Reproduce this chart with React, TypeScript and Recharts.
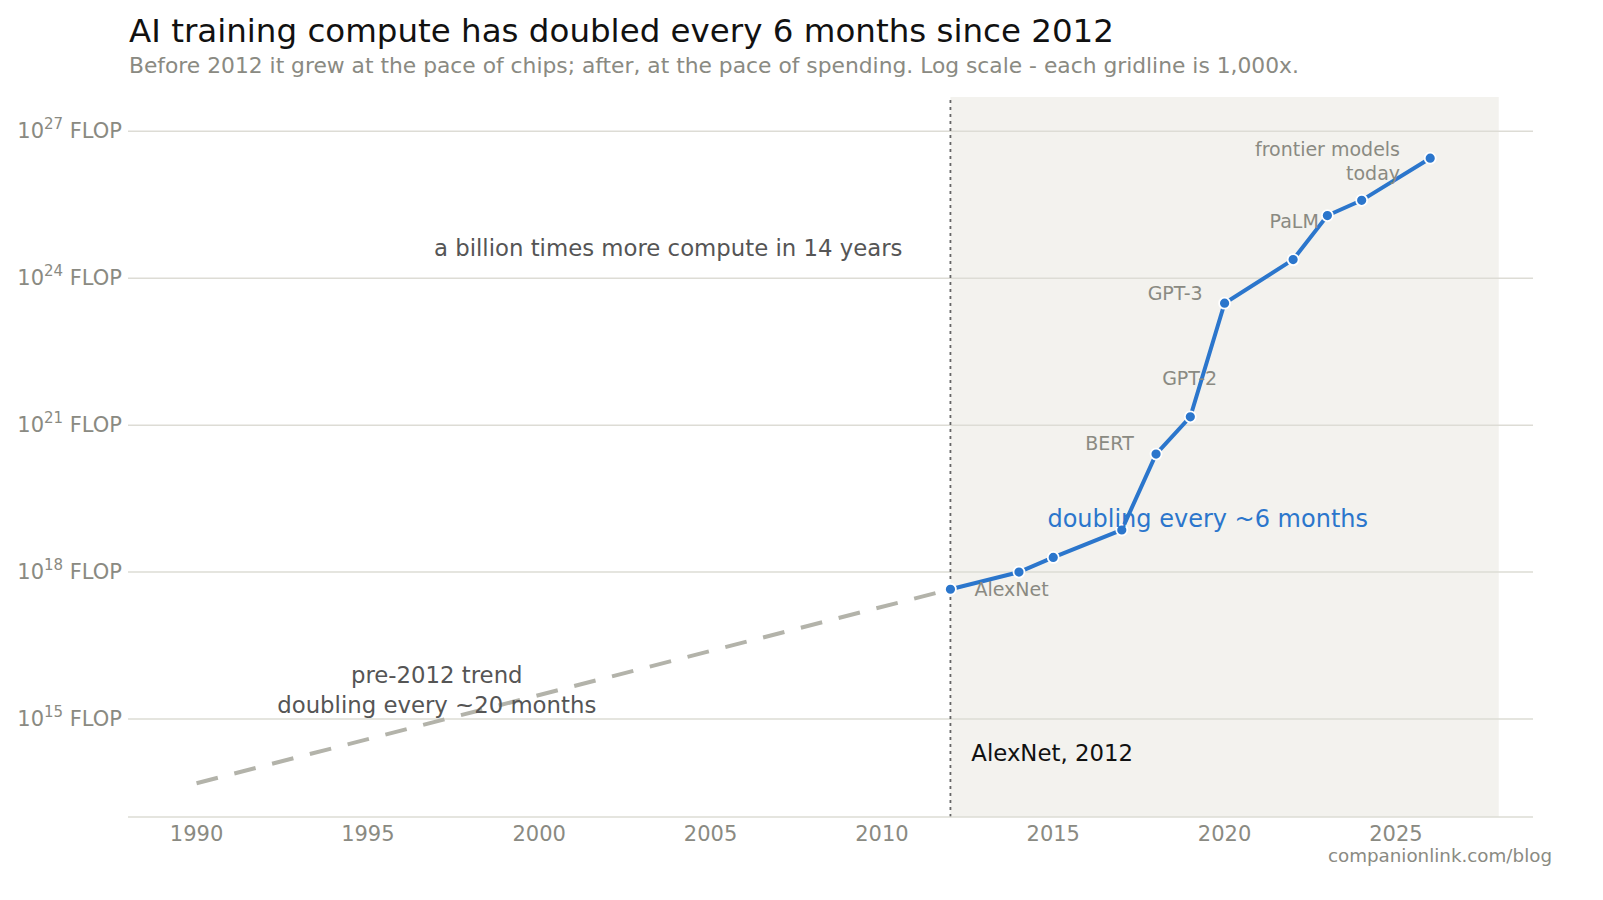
import React from 'react';
import {
  ComposedChart,
  Line,
  XAxis,
  YAxis,
  ReferenceArea,
  ReferenceLine,
  ReferenceDot,
} from 'recharts';

// log10(FLOP) values
const trendYears = [1990, 2012];
const trendLog = [13.69, 17.65];

const modelYears = [2012, 2014, 2015, 2017, 2018, 2019, 2020, 2022, 2023, 2024, 2026];
const modelLog = [17.65, 18.0, 18.3, 18.86, 20.41, 21.17, 23.49, 24.38, 25.28, 25.59, 26.45];

const xTicks = [1990, 1995, 2000, 2005, 2010, 2015, 2020, 2025];
const yTicks = [15, 18, 21, 24, 27];

const annoText = [
  'frontier models',
  'today',
  'PaLM',
  'GPT-3',
  'GPT-2',
  'BERT',
  'AlexNet',
  'doubling every ~6 months',
  'a billion times more compute in 14 years',
  'pre-2012 trend',
  'doubling every ~20 months',
  'AlexNet, 2012',
];
const annoYear = [2025.12, 2025.12, 2022.75, 2019.36, 2018.98, 2017.35, 2012.7, 2014.83, 2010.6, 1997.01, 1997.01, 2012.61];
const annoLog = [26.63, 26.14, 25.16, 23.69, 21.96, 20.63, 17.65, 19.08, 24.61, 15.9, 15.29, 14.31];

const BLUE = '#2b76cc';
const GREY = '#8a8a82';
const FONT = '"DejaVu Sans", sans-serif';

const annoStyle: Record<string, { anchor: string; fill: string; size: number }> = {
  'frontier models': { anchor: 'end', fill: GREY, size: 19 },
  today: { anchor: 'end', fill: GREY, size: 19 },
  PaLM: { anchor: 'end', fill: GREY, size: 19 },
  'GPT-3': { anchor: 'end', fill: GREY, size: 19 },
  'GPT-2': { anchor: 'middle', fill: GREY, size: 19 },
  BERT: { anchor: 'end', fill: GREY, size: 19 },
  AlexNet: { anchor: 'start', fill: GREY, size: 19 },
  'doubling every ~6 months': { anchor: 'start', fill: BLUE, size: 24 },
  'a billion times more compute in 14 years': { anchor: 'end', fill: '#555555', size: 22.8 },
  'pre-2012 trend': { anchor: 'middle', fill: '#555555', size: 22.8 },
  'doubling every ~20 months': { anchor: 'middle', fill: '#555555', size: 22.8 },
  'AlexNet, 2012': { anchor: 'start', fill: '#111111', size: 22.8 },
};

const trendData = trendYears.map((x, i) => ({ x, y: trendLog[i] }));
const modelData = modelYears.map((x, i) => ({ x, y: modelLog[i] }));

function YTick(props: any) {
  const { x, y, payload } = props;
  return (
    <text x={x} y={y} textAnchor="end" dominantBaseline="central" fill={GREY} fontSize={21} fontFamily={FONT}>
      <tspan>10</tspan>
      <tspan fontSize={15} dy={-7}>
        {String(payload.value)}
      </tspan>
      <tspan dy={7}> FLOP</tspan>
    </text>
  );
}

export default function App() {
  return (
    <div style={{ position: 'absolute', left: 0, top: 0, width: 1603, height: 900, background: '#fff' }}>
      <svg width={1603} height={900} style={{ position: 'absolute', left: 0, top: 0, pointerEvents: 'none' }}>
        <text x={129} y={42} fontSize={32.5} fill="#111" fontFamily={FONT}>
          AI training compute has doubled every 6 months since 2012
        </text>
        <text x={129} y={73} fontSize={21.8} fill={GREY} fontFamily={FONT}>
          Before 2012 it grew at the pace of chips; after, at the pace of spending. Log scale - each gridline is 1,000x.
        </text>
        <text x={1552} y={862} fontSize={18.3} fill={GREY} fontFamily={FONT} textAnchor="end">
          companionlink.com/blog
        </text>
      </svg>
      <ComposedChart
        width={1603}
        height={900}
        margin={{ top: 97, right: 70, bottom: 43, left: 0 }}
        style={{ position: 'absolute', left: 0, top: 0 }}
      >
        <ReferenceArea x1={2012} x2={2028} fill="#f3f2ee" fillOpacity={1} stroke="none" />
        {yTicks.map((t) => (
          <ReferenceLine key={t} y={t} stroke="#dddcd5" strokeWidth={1.5} />
        ))}
        <XAxis
          type="number"
          dataKey="x"
          domain={[1988, 2029]}
          ticks={xTicks}
          allowDataOverflow
          tickLine={false}
          tickSize={0}
          tickMargin={9}
          axisLine={{ stroke: '#dddcd5', strokeWidth: 1.5 }}
          tick={{ fill: GREY, fontSize: 21, fontFamily: FONT }}
          height={40}
        />
        <YAxis
          type="number"
          dataKey="y"
          domain={[13, 27.7]}
          ticks={yTicks}
          allowDataOverflow
          axisLine={false}
          tickLine={false}
          tickSize={0}
          tickMargin={6}
          width={128}
          tick={<YTick />}
        />
        <ReferenceLine x={2012} stroke="#666" strokeWidth={1.8} strokeDasharray="3 4" />
        <Line
          data={trendData}
          dataKey="y"
          stroke="#b3b3aa"
          strokeWidth={4}
          strokeDasharray="22 17"
          dot={false}
          isAnimationActive={false}
        />
        <Line
          data={modelData}
          dataKey="y"
          stroke={BLUE}
          strokeWidth={4}
          dot={{ r: 5.5, fill: BLUE, stroke: '#fff', strokeWidth: 1.8 }}
          isAnimationActive={false}
        />
        {annoText.map((t, i) => (
          <ReferenceDot
            key={t}
            x={annoYear[i]}
            y={annoLog[i]}
            r={0}
            ifOverflow="visible"
            shape={(p: any) => (
              <text
                x={p.cx}
                y={p.cy}
                textAnchor={annoStyle[t].anchor as any}
                dominantBaseline="central"
                fill={annoStyle[t].fill}
                fontSize={annoStyle[t].size}
                fontFamily={FONT}
              >
                {t}
              </text>
            )}
          />
        ))}
      </ComposedChart>
    </div>
  );
}
